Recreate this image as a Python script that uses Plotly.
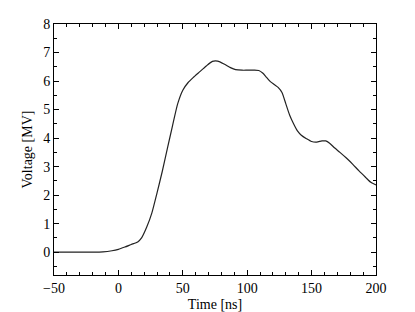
import plotly.graph_objects as go

time_ns = [-50, -40, -30, -20, -12, -5, 0, 5, 10, 15, 18, 22, 26, 30, 34, 38, 42, 46, 50, 54, 58,
           63, 68, 73, 77, 82, 87, 91, 96, 100, 105, 109, 112, 115, 118, 121, 124, 127, 130, 133,
           136, 139, 142, 146, 150, 154, 158, 161, 164, 168, 172, 177, 182, 187, 192, 196, 200]
voltage_mv = [0, 0, 0, 0, 0.01, 0.05, 0.1, 0.18, 0.27, 0.36, 0.5, 0.88, 1.38, 2.08, 2.82, 3.63,
              4.43, 5.2, 5.68, 5.94, 6.12, 6.32, 6.52, 6.69, 6.7, 6.6, 6.47, 6.4, 6.38, 6.38,
              6.38, 6.37, 6.28, 6.13, 5.98, 5.88, 5.78, 5.6, 5.2, 4.8, 4.5, 4.25, 4.1, 3.98, 3.88,
              3.86, 3.9, 3.9, 3.82, 3.65, 3.5, 3.3, 3.08, 2.84, 2.62, 2.45, 2.36]
x_ticks = [-50, 0, 50, 100, 150, 200]
x_labels = ["\u221250", "0", "50", "100", "150", "200"]
y_ticks = [0, 1, 2, 3, 4, 5, 6, 7, 8]

FONT = "Liberation Serif, Times New Roman, serif"

fig = go.Figure()
fig.add_trace(go.Scatter(x=time_ns, y=voltage_mv, mode="lines",
                         line=dict(color="#222222", width=1.2, shape="spline", smoothing=0.6),
                         showlegend=False))

axis_common = dict(showline=True, linecolor="black", linewidth=1, mirror="ticks",
                   ticks="inside", ticklen=5, tickwidth=1, tickcolor="black",
                   showgrid=False, zeroline=False, automargin=False,
                   tickfont=dict(family=FONT, size=14, color="black"))

fig.update_xaxes(range=[-50, 200], tickvals=x_ticks, ticktext=x_labels,
                 minor=dict(dtick=10, ticks="inside", ticklen=3, tickcolor="black"),
                 title=dict(text="Time [ns]", font=dict(family=FONT, size=14, color="black")),
                 **axis_common)
fig.update_yaxes(range=[-0.8, 8], tickvals=y_ticks,
                 minor=dict(dtick=0.5, tick0=0, ticks="inside", ticklen=3, tickcolor="black"),
                 title=dict(text="Voltage [MV]", standoff=7, font=dict(family=FONT, size=14, color="black")),
                 **axis_common)

# page body has an 8px margin, so the figure is sized to fit the 415x312 window
fig.update_layout(width=407, height=304, margin=dict(l=46, r=39, t=16, b=37),
                  paper_bgcolor="white", plot_bgcolor="white")

fig.write_html("out.html")
